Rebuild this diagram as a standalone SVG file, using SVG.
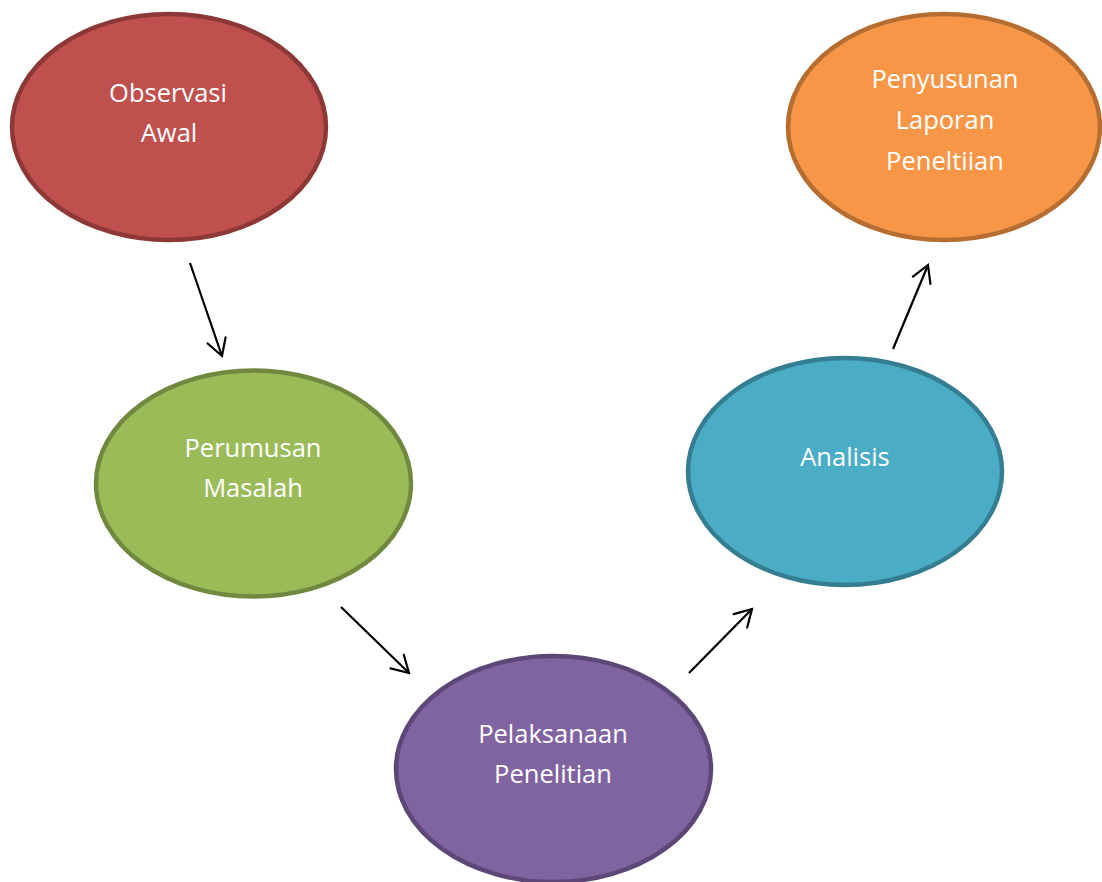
<svg xmlns="http://www.w3.org/2000/svg" width="1102" height="882" viewBox="0 0 1102 882">
  <defs>
    <marker id="arrow" markerUnits="userSpaceOnUse" markerWidth="40" markerHeight="40" viewBox="-20 -20 40 40" refX="0" refY="0" orient="auto">
      <path d="M-16.5,-9.5 L0,0 L-16.5,9.5" fill="none" stroke="#000" stroke-width="2.2" stroke-linecap="round" stroke-linejoin="miter"/>
    </marker>
    <style>
      .node { stroke-width: 4.5; }
      .lbl { font-family: "Open Sans", "Noto Sans", "Liberation Sans", sans-serif; font-size: 25.5px; fill: #ffffff; text-anchor: middle; }
      .conn { fill: none; stroke: #000; stroke-width: 2.2; marker-end: url(#arrow); }
    </style>
  </defs>
  <rect x="0" y="0" width="1102" height="882" fill="#ffffff"/>

  <g id="node-observasi">
    <ellipse class="node" cx="169" cy="127" rx="157" ry="113" fill="#C0504D" stroke="#8C3836"/>
    <text class="lbl" x="168" y="102">Observasi</text>
    <text class="lbl" x="169" y="142">Awal</text>
  </g>

  <g id="node-perumusan">
    <ellipse class="node" cx="253.5" cy="483.5" rx="157.5" ry="113" fill="#9BBB59" stroke="#71893F"/>
    <text class="lbl" x="253" y="457">Perumusan</text>
    <text class="lbl" x="253" y="497">Masalah</text>
  </g>

  <g id="node-pelaksanaan">
    <ellipse class="node" cx="553.5" cy="769" rx="157.5" ry="113" fill="#8064A2" stroke="#5C4776"/>
    <text class="lbl" x="553" y="743">Pelaksanaan</text>
    <text class="lbl" x="553" y="783">Penelitian</text>
  </g>

  <g id="node-analisis">
    <ellipse class="node" cx="845" cy="471.5" rx="157" ry="113.5" fill="#4BACC6" stroke="#357D91"/>
    <text class="lbl" x="845" y="466">Analisis</text>
  </g>

  <g id="node-penyusunan">
    <ellipse class="node" cx="944" cy="127" rx="156" ry="113" fill="#F79646" stroke="#B66D31"/>
    <text class="lbl" x="945" y="88">Penyusunan</text>
    <text class="lbl" x="945" y="129">Laporan</text>
    <text class="lbl" x="945" y="170">Peneltiian</text>
  </g>

  <g id="connectors">
    <line class="conn" x1="190" y1="263" x2="222" y2="356"/>
    <line class="conn" x1="341" y1="607" x2="409" y2="673"/>
    <line class="conn" x1="689" y1="673" x2="752" y2="609"/>
    <line class="conn" x1="893" y1="349" x2="928" y2="265"/>
  </g>
</svg>
